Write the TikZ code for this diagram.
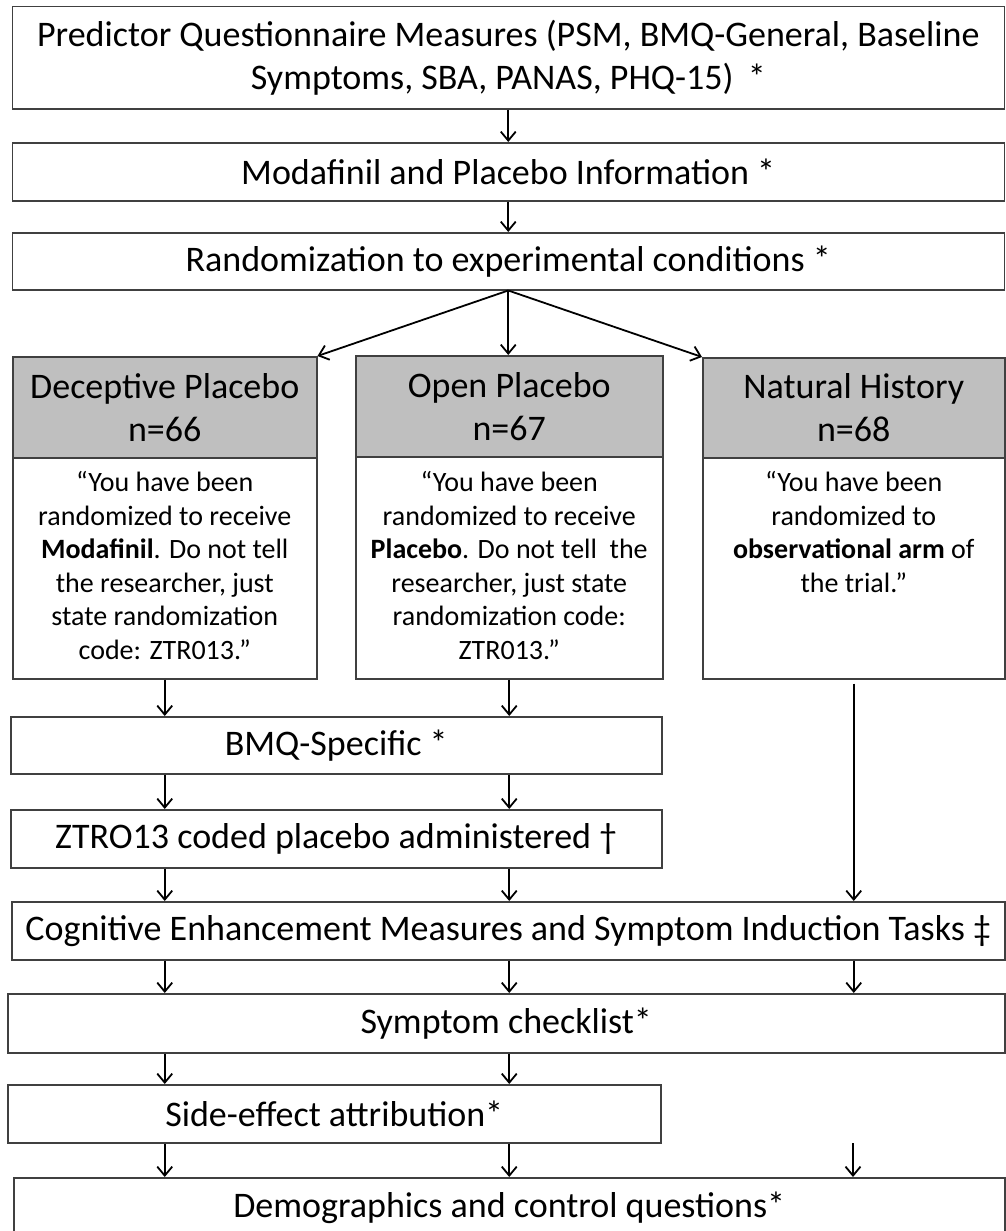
\documentclass[tikz,border=0pt]{standalone}
\usepackage{fontspec}
\setmainfont{Carlito}
\usetikzlibrary{arrows.meta}

\begin{document}
\begin{tikzpicture}[x=1pt,y=-1pt,
    box/.style={draw=black!75,line width=1.5pt,fill=white,anchor=north west,inner sep=0pt,
        align=center,font=\fontsize{36}{43}\selectfont},
    head/.style={box,fill=black!25},
    quote/.style={box,font=\fontsize{28}{33.5}\selectfont},
    arr/.style={-{Straight Barb[length=9pt,width=15pt]},line width=1.8pt}]
    \useasboundingbox (0,0) rectangle (1005,1231);
    % steps before randomization
    \node[box,minimum width=992pt,minimum height=102pt] (pred) at (11.5,6)
        {Predictor Questionnaire Measures (PSM, BMQ-General, Baseline\\Symptoms, SBA, PANAS, PHQ-15) \,*};
    \node[box,minimum width=992pt,minimum height=58pt] (info) at (11.5,142) {Modafinil and Placebo Information *};
    \node[box,minimum width=992pt,minimum height=57pt] (rand) at (11.5,232) {Randomization to experimental conditions *};
    % the three arms
    \node[head,minimum width=304pt,minimum height=101pt] (dec) at (12,356) {Deceptive Placebo\\n=66};
    \node[head,minimum width=307pt,minimum height=101pt] (open) at (355,355) {Open Placebo\\n=67};
    \node[head,minimum width=302pt,minimum height=100pt] (nh) at (702,357) {Natural History\\n=68};
    \node[quote] (decb) at (12,457) {\parbox[t][221pt][t]{304pt}{\centering\vspace*{14pt}%
        “You have been\\randomized to receive\\\textbf{Modafinil}. Do not tell\\the researcher, just\\state randomization\\code: ZTR013.”}};
    \node[quote] (openb) at (355,456) {\parbox[t][222pt][t]{307pt}{\centering\vspace*{15pt}%
        “You have been\\randomized to receive\\\textbf{Placebo}. Do not tell \ the\\researcher, just state\\randomization code:\\ZTR013.”}};
    \node[quote] (nhb) at (702,457) {\parbox[t][221pt][t]{302pt}{\centering\vspace*{14pt}%
        “You have been\\randomized to\\\textbf{observational arm} of\\the trial.”}};
    % steps after randomization
    \node[box,minimum width=651pt,minimum height=57pt] (bmq) at (10,716) {BMQ-Specific *};
    \node[box,minimum width=651pt,minimum height=58pt] (ztro) at (10,809) {ZTRO13 coded placebo administered †};
    \node[box,minimum width=993pt,minimum height=58pt] (cog) at (11,901)
        {Cognitive Enhancement Measures and Symptom Induction Tasks ‡};
    \node[box,minimum width=997pt,minimum height=59pt] (sym) at (7,993) {Symptom checklist*};
    \node[box,minimum width=653pt,minimum height=58pt] (side) at (7,1084) {Side-effect attribution*};
    \node[box,minimum width=991pt,minimum height=60pt] (demo) at (13,1177) {Demographics and control questions*};
    \coordinate (free) at (853,1143);
    % arrows
    \draw[arr] (pred) -- (info);
    \draw[arr] (info) -- (rand);
    \draw[arr] (rand.south) -- (dec.north east);
    \draw[arr] (rand.south) -- (rand.south |- open.north);
    \draw[arr] (rand.south) -- (nh.north west);
    \foreach \u/\v in {decb/bmq,bmq/ztro,ztro/cog,cog/sym,sym/side,side/demo}{
        \draw[arr] (\u.south -| decb.south) -- (\v.north -| decb.south);
        \draw[arr] (\u.south -| openb.south) -- (\v.north -| openb.south);}
    \draw[arr] ([yshift=-4pt]nhb.south) -- (cog.north -| nhb.south);
    \draw[arr] (cog.south -| nhb.south) -- (sym.north -| nhb.south);
    \draw[arr] (free) -- (demo.north -| free);
\end{tikzpicture}
\end{document}
